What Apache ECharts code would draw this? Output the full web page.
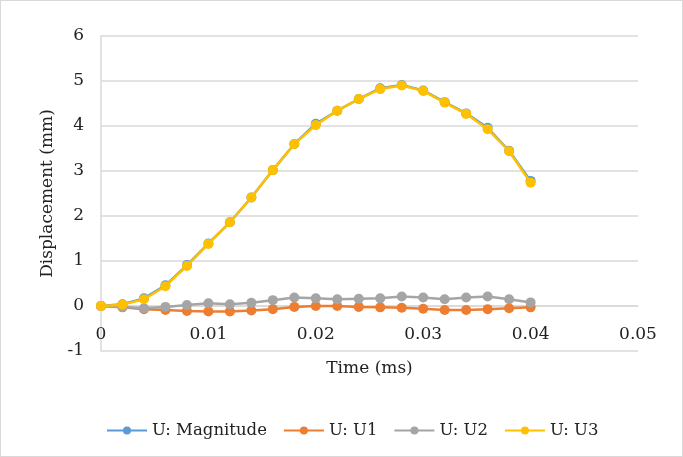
<!DOCTYPE html>
<html>
<head>
<meta charset="utf-8">
<script src="https://cdn.jsdelivr.net/npm/echarts@6/dist/echarts.min.js"></script>
<style>
  html, body { margin: 0; padding: 0; background: #fff; }
  #chart { width: 681px; height: 455px; border: 1px solid #d9d9d9; }
</style>
</head>
<body>
<div id="chart"></div>
<script>
const time = [0, 0.002, 0.004, 0.006, 0.008, 0.010, 0.012, 0.014, 0.016, 0.018, 0.020,
  0.022, 0.024, 0.026, 0.028, 0.030, 0.032, 0.034, 0.036, 0.038, 0.040];
const uMag = [0, 0.04, 0.17, 0.46, 0.91, 1.39, 1.86, 2.41, 3.02, 3.6, 4.05,
  4.34, 4.6, 4.84, 4.91, 4.79, 4.53, 4.28, 3.96, 3.45, 2.78];
const u1 = [0, -0.03, -0.07, -0.09, -0.11, -0.12, -0.12, -0.1, -0.07, -0.02, 0,
  0, -0.02, -0.03, -0.04, -0.06, -0.09, -0.09, -0.07, -0.05, -0.03];
const u2 = [0, -0.02, -0.05, -0.02, 0.02, 0.06, 0.04, 0.07, 0.13, 0.19, 0.17,
  0.15, 0.16, 0.17, 0.21, 0.19, 0.15, 0.19, 0.21, 0.15, 0.08];
const u3 = [0, 0.03, 0.15, 0.44, 0.89, 1.38, 1.86, 2.41, 3.02, 3.6, 4.02,
  4.34, 4.6, 4.82, 4.9, 4.78, 4.52, 4.27, 3.93, 3.44, 2.74];

const names = ["U: Magnitude", "U: U1", "U: U2", "U: U3"];
const colors = ["#5b9bd5", "#ed7d31", "#a5a5a5", "#ffc000"];
const values = [uMag, u1, u2, u3];

const font = "DejaVu Serif";
const chart = echarts.init(document.getElementById("chart"));

// the x axis sits on y = 0, one step (45px) above the bottom of the grid
chart.setOption({
  animation: false,
  textStyle: { fontFamily: font },
  grid: { left: 100, right: 44, top: 35, bottom: 105 },
  legend: {
    bottom: 12,
    left: 100,
    itemWidth: 40,
    itemHeight: 10,
    itemGap: 16,
    textStyle: { fontFamily: font, fontSize: 16.5, color: "#222" },
    data: names
  },
  xAxis: {
    type: "value",
    min: 0, max: 0.05, interval: 0.01,
    offset: -45,
    name: "Time (ms)",
    nameLocation: "middle",
    nameGap: 54,
    nameTextStyle: { fontFamily: font, fontSize: 17, color: "#222" },
    axisLine: { onZero: false, lineStyle: { color: "#d9d9d9", width: 1.5 } },
    axisTick: { show: false },
    axisLabel: { fontFamily: font, fontSize: 17, color: "#222", margin: 20 },
    splitLine: { show: false }
  },
  yAxis: {
    type: "value",
    min: -1, max: 6, interval: 1,
    name: "Displacement (mm)",
    nameLocation: "middle",
    nameGap: 38,
    nameTextStyle: { fontFamily: font, fontSize: 17, color: "#222" },
    axisLine: { show: true, lineStyle: { color: "#d9d9d9", width: 1.5 } },
    axisTick: { show: false },
    axisLabel: { fontFamily: font, fontSize: 17, color: "#222", margin: 17 },
    splitLine: { lineStyle: { color: "#d9d9d9", width: 1.5 } }
  },
  series: names.map((n, i) => ({
    name: n,
    type: "line",
    data: time.map((t, j) => [t, values[i][j]]),
    symbol: "circle",
    symbolSize: 10,
    color: colors[i],
    lineStyle: { width: 2.5, color: colors[i] },
    itemStyle: { color: colors[i] },
    z: 2 + i
  }))
});
</script>
</body>
</html>
